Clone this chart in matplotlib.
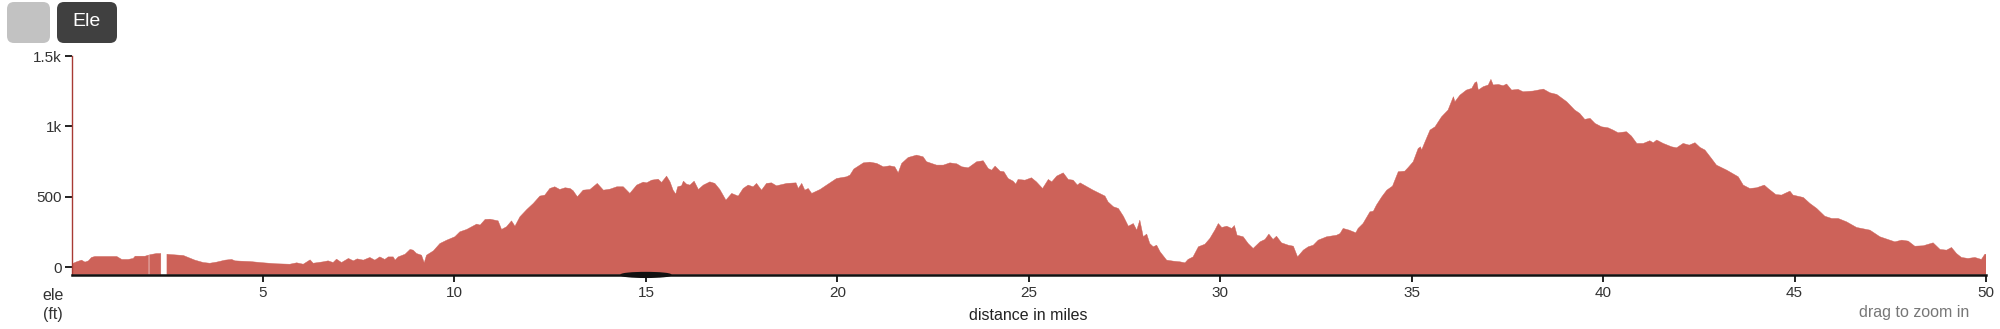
import numpy as np
import matplotlib
matplotlib.use("Agg")
import matplotlib.pyplot as plt
from matplotlib.patches import FancyBboxPatch, Ellipse
from matplotlib.transforms import IdentityTransform, blended_transform_factory

# ---- data ----
miles = [
    0.00, 0.03, 0.13, 0.26, 0.35, 0.44, 0.52, 0.61, 1.18, 1.31, 1.48, 1.61, 1.66, 1.92,
    2.01, 2.02, 2.035, 2.22, 2.33, 2.41, 2.49, 2.57, 2.92, 3.01, 3.22, 3.44, 3.61, 3.79,
    4.01, 4.18, 4.27, 4.40, 4.66, 5.01, 5.36, 5.70, 5.88, 6.05, 6.23, 6.31, 6.57, 6.70,
    6.83, 6.92, 7.05, 7.23, 7.36, 7.46, 7.62, 7.79, 7.92,
    8.05, 8.18, 8.27, 8.40, 8.45, 8.53, 8.71, 8.84, 8.92, 9.01, 9.14, 9.21, 9.27, 9.45,
    9.62, 9.80, 10.01, 10.14, 10.32, 10.45, 10.58, 10.67, 10.80, 10.93, 11.14, 11.23,
    11.36, 11.49, 11.58, 11.71, 11.89, 12.06, 12.23, 12.36, 12.49, 12.62, 12.75, 12.89,
    13.02, 13.10, 13.21, 13.36, 13.54, 13.73, 13.89, 14.06, 14.24, 14.41, 14.58, 14.76,
    14.93, 15.02, 15.15, 15.32, 15.41, 15.54, 15.63, 15.71, 15.78, 15.83, 15.93, 15.98,
    16.06,
    16.15, 16.26, 16.37, 16.50, 16.67, 16.80, 16.93, 17.09, 17.24, 17.41, 17.54, 17.67,
    17.80, 17.89, 18.02, 18.15, 18.28, 18.41, 18.68, 18.92, 18.98, 19.07, 19.15, 19.24,
    19.33, 19.55, 19.72, 19.98, 20.24, 20.33, 20.43, 20.68, 20.85, 21.03, 21.20, 21.37,
    21.50, 21.59, 21.68, 21.85, 22.07, 22.24, 22.33, 22.59, 22.77, 22.94, 23.12, 23.25,
    23.42, 23.64, 23.81, 23.94, 24.03, 24.12,
    24.25, 24.35, 24.46, 24.59, 24.66, 24.72, 24.90, 25.07, 25.20, 25.36, 25.51, 25.60,
    25.73, 25.90, 26.03, 26.16, 26.27, 26.34, 26.68, 26.99, 27.07, 27.21, 27.34, 27.47,
    27.60, 27.73, 27.82, 27.90, 27.99, 28.08, 28.16, 28.25, 28.34, 28.43, 28.60, 28.77,
    28.95, 29.08, 29.16, 29.29, 29.43, 29.60, 29.73, 29.86, 29.95, 30.04, 30.17, 30.30,
    30.37, 30.44, 30.60, 30.73, 30.86, 31.04, 31.17, 31.27, 31.38, 31.47, 31.60, 31.78,
    31.91, 32.02, 32.17, 32.30,
    32.43, 32.56, 32.78, 33.04, 33.13, 33.21, 33.37, 33.54, 33.60, 33.73, 33.91, 34.00,
    34.08, 34.22, 34.35, 34.50, 34.65, 34.82, 34.91, 35.04, 35.17, 35.23, 35.26, 35.35,
    35.48, 35.61, 35.78, 35.95, 36.09, 36.13, 36.26, 36.43, 36.57, 36.65, 36.70, 36.74,
    36.87, 37.00, 37.07, 37.13, 37.26, 37.39, 37.48, 37.61, 37.78, 37.91, 38.17, 38.44,
    38.61, 38.79, 39.05, 39.26, 39.39, 39.52, 39.66, 39.79, 39.96, 40.13, 40.26, 40.39,
    40.61, 40.74, 40.88, 41.05,
    41.22, 41.31, 41.40, 41.57, 41.79, 41.92, 42.09, 42.25, 42.40, 42.53, 42.66, 42.83,
    42.96, 43.23, 43.53, 43.66, 43.83, 44.01, 44.21, 44.31, 44.51, 44.66, 44.75, 44.88,
    44.96, 45.23, 45.40, 45.58, 45.79, 45.97, 46.14, 46.36, 46.62, 46.97, 47.23, 47.62,
    47.80, 47.97, 48.14, 48.36, 48.62, 48.80, 48.97, 49.10, 49.23, 49.36, 49.53, 49.71,
    49.88, 49.97, 50.00,
]
ele_ft = [
    20, 26, 38, 50, 36, 45, 69, 76, 76, 55, 55, 62, 78, 78,
    86, np.nan, 88, 97, 97, np.nan, 92, 90, 83, 73, 50, 33, 28, 36,
    50, 55, 45, 43, 40, 31, 24, 21, 31, 21, 52, 28, 38, 45,
    33, 57, 33, 62, 45, 59, 50, 69, 50,
    73, 55, 73, 73, 50, 73, 92, 126, 121, 97, 85, 31, 85, 116,
    168, 192, 216, 251, 268, 287, 306, 299, 339, 341, 329, 268,
    287, 329, 291, 358, 410, 453, 505, 512, 559, 571, 552, 564,
    559, 543, 500, 547, 552, 595, 547, 554, 571, 571, 524, 583,
    604, 599, 618, 625, 602, 647, 606, 547, 519, 571, 578, 611,
    590,
    583, 611, 552, 583, 606, 595, 552, 476, 524, 505, 559, 583,
    571, 595, 547, 595, 599, 578, 595, 599, 559, 595, 547, 559,
    524, 552, 583, 630, 642, 654, 697, 741, 746, 737, 713, 720,
    713, 670, 737, 779, 796, 784, 749, 725, 725, 741, 734, 713,
    706, 749, 756, 701, 689, 718,
    682, 678, 630, 611, 590, 623, 618, 635, 606, 559, 623, 606,
    647, 670, 623, 618, 583, 599, 547, 505, 464, 429, 417, 362,
    291, 310, 263, 334, 216, 235, 168, 145, 156, 109, 50, 43,
    38, 31, 55, 73, 145, 163, 204, 263, 310, 282, 291, 275,
    296, 227, 216, 168, 133, 180, 197, 235, 197, 220, 173, 156,
    149, 73, 121, 145,
    156, 192, 216, 227, 239, 275, 263, 244, 275, 310, 393, 398,
    441, 500, 547, 576, 678, 682, 708, 749, 843, 855, 832, 891,
    974, 997, 1068, 1116, 1211, 1175, 1222, 1258, 1270, 1310, 1317, 1258,
    1282, 1294, 1334, 1294, 1298, 1289, 1301, 1258, 1263, 1246, 1251, 1265,
    1239, 1227, 1175, 1116, 1092, 1050, 1057, 1021, 997, 990, 974, 955,
    962, 931, 879, 879,
    898, 884, 903, 879, 855, 848, 879, 867, 884, 851, 832, 772,
    725, 689, 642, 583, 559, 564, 583, 559, 516, 512, 524, 540,
    512, 495, 453, 417, 362, 346, 346, 322, 282, 263, 216, 180,
    192, 185, 149, 152, 173, 126, 121, 140, 97, 69, 62, 69,
    55, 92, 92,
]
x_ticks = [5, 10, 15, 20, 25, 30, 35, 40, 45, 50]
y_ticks = [0, 500, 1000, 1500]
y_tick_labels = ["0", "500", "1k", "1.5k"]

AREA = "#cd6259"
TXT = "#333333"
FONT = ["Liberation Sans", "DejaVu Sans"]
plt.rcParams["font.family"] = FONT

W, H, DPI = 2000, 329, 100
fig = plt.figure(figsize=(W / DPI, H / DPI), dpi=DPI, facecolor="white")
ax = fig.add_axes([71.6 / W, 1 - 274.5 / H, (1986 - 71.6) / W, (274.5 - 56) / H])
ax.set_facecolor("white")

ymin, ymax = -52, 1500
x = np.array(miles, dtype=float)
y = np.array(ele_ft, dtype=float)
ax.fill_between(x, y, ymin, where=~np.isnan(y), color=AREA, lw=0.3, edgecolor=AREA,
                interpolate=False)
ax.set_xlim(0, 50)
ax.set_ylim(ymin, ymax)

for s in ("top", "right"):
    ax.spines[s].set_visible(False)
ax.spines["left"].set_color("#a83a33")
ax.spines["left"].set_linewidth(1.0)
ax.spines["left"].set_bounds(ymin, ymax)
ax.spines["bottom"].set_color("#111111")
ax.spines["bottom"].set_linewidth(1.8)
ax.spines["bottom"].set_zorder(3)

ax.set_xticks(x_ticks)
ax.set_xticklabels([str(v) for v in x_ticks])
ax.set_yticks(y_ticks)
ax.set_yticklabels(y_tick_labels)
ax.tick_params(axis="both", colors="#222222", labelcolor=TXT, labelsize=11,
               length=5, width=1.4, pad=3)
ax.tick_params(axis="y", pad=2)

# faint shadow sliver under the 15 mile tick
tr = blended_transform_factory(ax.transData, ax.transAxes)
ax.add_patch(Ellipse((15.0, -0.002), 1.3, 0.022, transform=tr, color="#111111",
                     clip_on=False, zorder=2))

# labels
fig.text(53 / W, 1 - 295 / H, "ele", ha="center", va="center", fontsize=11.5, color=TXT)
fig.text(53 / W, 1 - 315 / H, "(ft)", ha="center", va="center", fontsize=11.5, color=TXT)
fig.text(1028 / W, 1 - 316 / H, "distance in miles", ha="center", va="center",
         fontsize=11.5, color="#222222")
fig.text(1969 / W, 1 - 313 / H, "drag to zoom in", ha="right", va="center",
         fontsize=11.5, color="#777777")

# buttons
fig.patches.append(FancyBboxPatch((7, H - 43), 43, 41,
                                  boxstyle="round,pad=0,rounding_size=7",
                                  transform=IdentityTransform(), facecolor="#c2c2c2",
                                  edgecolor="none"))
fig.patches.append(FancyBboxPatch((57, H - 43), 60, 41,
                                  boxstyle="round,pad=0,rounding_size=7",
                                  transform=IdentityTransform(), facecolor="#404040",
                                  edgecolor="none"))
fig.text(87 / W, 1 - 22 / H, "Ele", ha="center", va="center", fontsize=14,
         color="white")

fig.savefig("out.png", dpi=DPI, facecolor="white")
